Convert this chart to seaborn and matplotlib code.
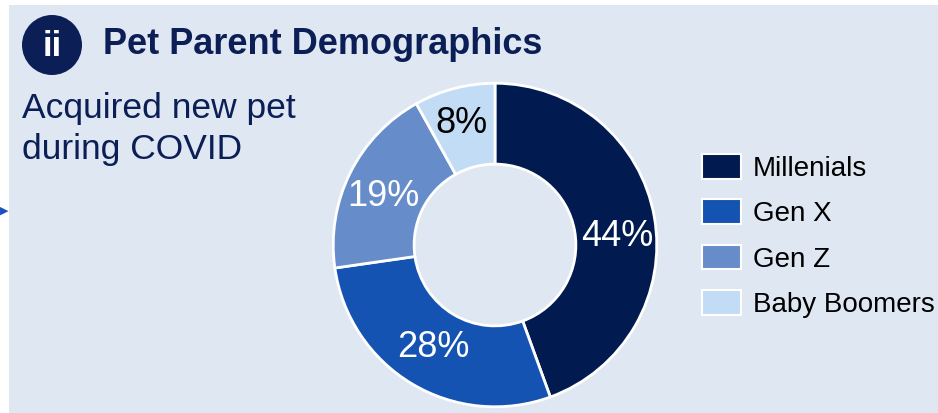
import matplotlib
matplotlib.use("Agg")
import matplotlib.pyplot as plt
from matplotlib.patches import Rectangle, Circle, Patch
import numpy as np
import seaborn as sns

groups = ["Millenials", "Gen X", "Gen Z", "Baby Boomers"]
shares = [44, 28, 19, 8]
pct_labels = ["44%", "28%", "19%", "8%"]
title = "Pet Parent Demographics"
subtitle = "Acquired new pet\nduring COVID"

colors = ["#011a50", "#1553b3", "#678cca", "#c2dcf6"]
label_colors = ["white", "white", "white", "black"]
navy = "#0b1f56"
panel = "#dfe7f2"

sns.set_theme(style="white")
plt.rcParams["font.family"] = ["Liberation Sans", "DejaVu Sans"]

W, H = 938, 413
fig = plt.figure(figsize=(W / 100, H / 100), dpi=100)
fig.patch.set_facecolor("white")

# background panel
fig.patches.append(Rectangle((9 / W, 0), 1, 1 - 5 / H, transform=fig.transFigure,
                             facecolor=panel, edgecolor="none", zorder=-5))

# donut
cx, cy, r = 495, 245, 165
ax = fig.add_axes([(cx - r) / W, (H - cy - r) / H, 2 * r / W, 2 * r / H])
ax.set_zorder(2)
ax.set_facecolor("none")
wedges, _ = ax.pie(shares, colors=colors, startangle=90, counterclock=False,
                   radius=1, wedgeprops=dict(width=0.5, edgecolor="white", linewidth=2))
tot = sum(shares)
ang = 90 - 360 * (np.cumsum(shares) - np.array(shares) / 2) / tot
# slight label nudges (deg, radius) like the original layout
nudge = [(-6, 0.76), (0, 0.74), (3, 0.75), (1, 0.78)]
for a, lab, c, (da, rr) in zip(ang, pct_labels, label_colors, nudge):
    t = np.radians(a + da)
    ax.text(rr * np.cos(t), rr * np.sin(t), lab,
            ha="center", va="center", fontsize=26, color=c)
ax.set_xlim(-1.02, 1.02)
ax.set_ylim(-1.02, 1.02)
ax.set_aspect("equal")
ax.axis("off")

# badge + title
fig.patches.append(Circle((52, H - 45), 30, transform=None, facecolor=navy,
                          edgecolor="none", zorder=2))
fig.text(52 / W, 1 - 46 / H, "ii", ha="center", va="center", fontsize=25,
         fontweight="bold", color="white", zorder=3)
fig.text(103 / W, 1 - 45 / H, title, ha="left", va="center", fontsize=26,
         fontweight="bold", color=navy)
fig.text(22 / W, 1 - 92 / H, subtitle, ha="left", va="top", fontsize=25.5,
         color=navy, linespacing=1.3)

# small arrow on left edge
fig.text(4 / W, 1 - 211 / H, "\u25b6", ha="center", va="center", fontsize=8,
         color="#1a4fc0", family=["DejaVu Sans"])

# legend
handles = [Patch(facecolor=c, edgecolor="white", linewidth=1.5) for c in colors]
leg = fig.legend(handles, groups, loc="center left", bbox_to_anchor=(702 / W, 1 - 236 / H),
                 frameon=False, fontsize=20, handlelength=1.4, handleheight=1.0,
                 handletextpad=0.43, labelspacing=0.62, borderpad=0, borderaxespad=0)
for t in leg.get_texts():
    t.set_color("black")

fig.savefig("out.png", dpi=100, facecolor="white")
